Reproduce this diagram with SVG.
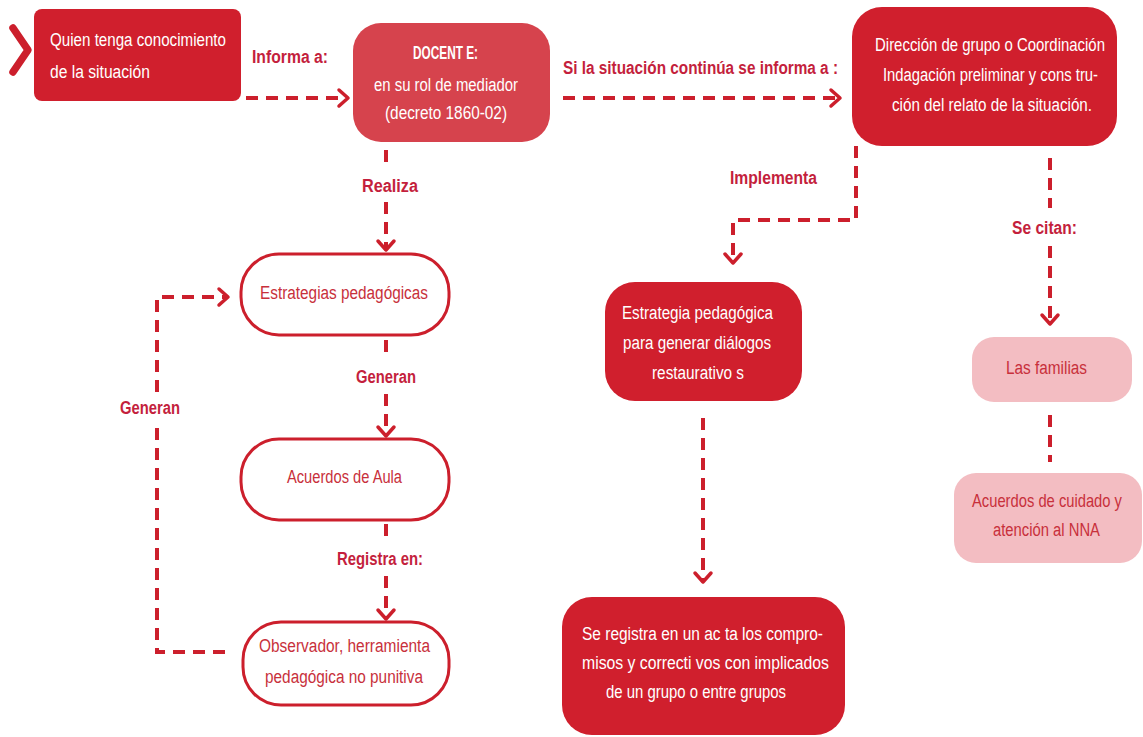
<svg xmlns="http://www.w3.org/2000/svg" width="1143" height="737" viewBox="0 0 1143 737">
<defs>
<style>
text{font-family:"Liberation Sans",Arial,sans-serif;dominant-baseline:central}
.w{fill:#ffffff;font-size:18px}
.wb{fill:#ffffff;font-size:18px;font-weight:bold}
.r{fill:#c8303b;font-size:18px}
.lbl{fill:#c41f3d;font-size:18px;font-weight:bold}
.red{fill:#d01f2d}
.mid{fill:#d6434d}
.pink{fill:#f3bdc2}
.out{fill:#ffffff;stroke:#cc1f2c;stroke-width:3}
.dash{fill:none;stroke:#cc1f2c;stroke-width:4;stroke-dasharray:12 8}
</style>
<marker id="arr" markerUnits="userSpaceOnUse" markerWidth="30" markerHeight="30" viewBox="-15 -15 30 30" refX="0" refY="0" orient="auto" overflow="visible">
<path d="M-9,-8 L0,0 L-9,8" fill="none" stroke="#cc1f2c" stroke-width="3.5" stroke-linecap="round" stroke-linejoin="round"/>
</marker>
</defs>
<rect width="1143" height="737" fill="#ffffff"/>

<g id="connectors">
<path class="dash" d="M246,98 H348" marker-end="url(#arr)"/>
<path class="dash" d="M563,98 H840" marker-end="url(#arr)"/>
<path class="dash" d="M856,146 V220 H733 V263" marker-end="url(#arr)"/>
<path class="dash" d="M1050,158 V208"/>
<path class="dash" d="M1050,246 V324" marker-end="url(#arr)"/>
<path class="dash" d="M386,150 V170"/>
<path class="dash" d="M386,202 V250" marker-end="url(#arr)"/>
<path class="dash" d="M386,340 V360"/>
<path class="dash" d="M386,394 V436" marker-end="url(#arr)"/>
<path class="dash" d="M386,524 V540"/>
<path class="dash" d="M386,576 V619" marker-end="url(#arr)"/>
<path class="dash" d="M225,652 H157 V425"/>
<path class="dash" d="M157,392 V297 H228" marker-end="url(#arr)"/>
<path class="dash" d="M703,418 V582" marker-end="url(#arr)"/>
<path class="dash" d="M1050,415 V462"/>
<text class="lbl" x="252" y="57" textLength="76" lengthAdjust="spacingAndGlyphs">Informa a:</text>
<text class="lbl" x="563" y="68" textLength="275" lengthAdjust="spacingAndGlyphs">Si la situación continúa se informa a :</text>
<text class="lbl" x="730" y="178" textLength="87" lengthAdjust="spacingAndGlyphs">Implementa</text>
<text class="lbl" x="1012" y="228" textLength="65" lengthAdjust="spacingAndGlyphs">Se citan:</text>
<text class="lbl" x="362" y="186" textLength="56" lengthAdjust="spacingAndGlyphs">Realiza</text>
<text class="lbl" x="356" y="377" textLength="60" lengthAdjust="spacingAndGlyphs">Generan</text>
<text class="lbl" x="120" y="408" textLength="60" lengthAdjust="spacingAndGlyphs">Generan</text>
<text class="lbl" x="337" y="559" textLength="86" lengthAdjust="spacingAndGlyphs">Registra en:</text>
</g>

<g id="start">
<path d="M13,28 L28,50 L13,72" fill="none" stroke="#cc1f2c" stroke-width="7.5" stroke-linecap="round" stroke-linejoin="round"/>
</g>

<g id="n-quien">
<rect class="red" x="34" y="9" width="207" height="92" rx="8"/>
<text class="w" x="50" y="40" textLength="176" lengthAdjust="spacingAndGlyphs">Quien tenga conocimiento</text>
<text class="w" x="50" y="72" textLength="100" lengthAdjust="spacingAndGlyphs">de la situación</text>
</g>

<g id="n-docente">
<rect class="mid" x="353" y="23" width="197" height="119" rx="28"/>
<text class="wb" x="413" y="53" textLength="65" lengthAdjust="spacingAndGlyphs">DOCENT E:</text>
<text class="w" x="374" y="85" textLength="144" lengthAdjust="spacingAndGlyphs">en su rol de mediador</text>
<text class="w" x="385" y="113" textLength="122" lengthAdjust="spacingAndGlyphs">(decreto 1860-02)</text>
</g>

<g id="n-direccion">
<rect class="red" x="852" y="7" width="265" height="139" rx="30"/>
<text class="w" transform="translate(990,45) scale(0.83,1)" text-anchor="middle">Dirección de grupo o Coordinación</text>
<text class="w" x="883" y="75" textLength="215" lengthAdjust="spacingAndGlyphs">Indagación preliminar y cons tru-</text>
<text class="w" x="892" y="105" textLength="200" lengthAdjust="spacingAndGlyphs">ción del relato de la situación.</text>
</g>

<g id="n-estrategias">
<rect class="out" x="241" y="254" width="208" height="81" rx="38"/>
<text class="r" x="260" y="293" textLength="168" lengthAdjust="spacingAndGlyphs">Estrategias pedagógicas</text>
</g>

<g id="n-acuerdos-aula">
<rect class="out" x="241" y="439" width="208" height="81" rx="38"/>
<text class="r" x="287" y="477" textLength="115" lengthAdjust="spacingAndGlyphs">Acuerdos de Aula</text>
</g>

<g id="n-observador">
<rect class="out" x="243" y="622" width="206" height="83" rx="38"/>
<text class="r" x="259" y="646" textLength="171" lengthAdjust="spacingAndGlyphs">Observador, herramienta</text>
<text class="r" x="265" y="677" textLength="158" lengthAdjust="spacingAndGlyphs">pedagógica no punitiva</text>
</g>

<g id="n-estrategia-dialogos">
<rect class="red" x="605" y="282" width="197" height="119" rx="30"/>
<text class="w" x="622" y="313" textLength="151" lengthAdjust="spacingAndGlyphs">Estrategia pedagógica</text>
<text class="w" x="623" y="343" textLength="148" lengthAdjust="spacingAndGlyphs">para generar diálogos</text>
<text class="w" x="652" y="373" textLength="92" lengthAdjust="spacingAndGlyphs">restaurativo s</text>
</g>

<g id="n-acta">
<rect class="red" x="562" y="597" width="283" height="138" rx="30"/>
<text class="w" x="582" y="634" textLength="241" lengthAdjust="spacingAndGlyphs">Se registra en un ac ta los compro-</text>
<text class="w" x="582" y="663" textLength="247" lengthAdjust="spacingAndGlyphs">misos y correcti vos con implicados</text>
<text class="w" x="606" y="692" textLength="180" lengthAdjust="spacingAndGlyphs">de un grupo o entre grupos</text>
</g>

<g id="n-familias">
<rect class="pink" x="972" y="337" width="160" height="65" rx="22"/>
<text class="r" x="1006" y="368" textLength="81" lengthAdjust="spacingAndGlyphs">Las familias</text>
</g>

<g id="n-acuerdos-cuidado">
<rect class="pink" x="954" y="473" width="188" height="90" rx="22"/>
<text class="r" transform="translate(1047,500) scale(0.82,1)" text-anchor="middle">Acuerdos de cuidado y</text>
<text class="r" x="993" y="530" textLength="107" lengthAdjust="spacingAndGlyphs">atención al NNA</text>
</g>
</svg>
